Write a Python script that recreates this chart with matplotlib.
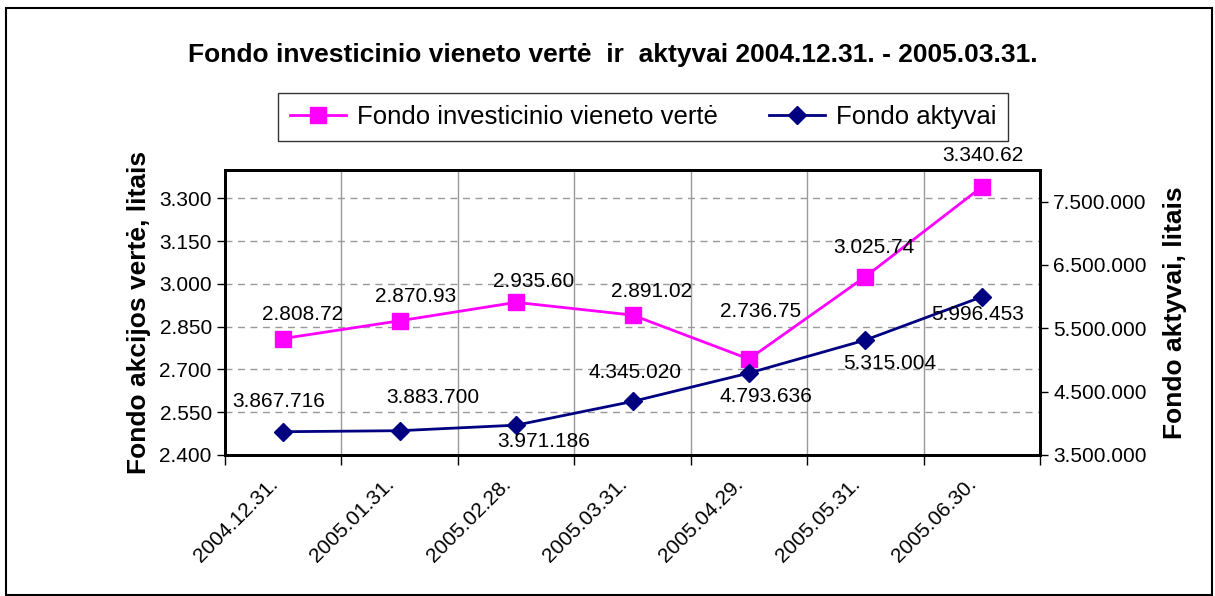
import numpy as np
import matplotlib
matplotlib.use("Agg")
from matplotlib import pyplot as plt
from matplotlib.patches import Rectangle
from matplotlib.ticker import FixedLocator
from matplotlib.transforms import offset_copy

dates = ["2004.12.31.", "2005.01.31.", "2005.02.28.", "2005.03.31.",
         "2005.04.29.", "2005.05.31.", "2005.06.30."]
unit_value = [2808.72, 2870.93, 2935.60, 2891.02, 2736.75, 3025.74, 3340.62]
unit_labels = ["2.808.72", "2.870.93", "2.935.60", "2.891.02",
               "2.736.75", "3.025.74", "3.340.62"]
assets = [3867716, 3883700, 3971186, 4345020, 4793636, 5315004, 5996453]
asset_labels = ["3.867.716", "3.883.700", "3.971.186", "4.345.020",
                "4.793.636", "5.315.004", "5.996.453"]
left_ticks = [2400, 2550, 2700, 2850, 3000, 3150, 3300]
left_ticklabels = ["2.400", "2.550", "2.700", "2.850", "3.000", "3.150", "3.300"]
right_ticks = [3500000, 4500000, 5500000, 6500000, 7500000]
right_ticklabels = ["3.500.000", "4.500.000", "5.500.000", "6.500.000", "7.500.000"]

# label offsets in pixels (dx, dy)
unit_off = [(19, 24), (16, 24), (18, 21), (19, 24), (12, 48), (9, 29), (1, 31)]
asset_off = [(-5, 30), (33, 33), (28, -16), (2, 29), (17, -23), (24, -23), (-4, -18)]

plt.rcParams['font.family'] = ['Liberation Sans', 'DejaVu Sans']

W, H = 1215, 596
fig = plt.figure(figsize=(W / 100, H / 100), dpi=100)
ax = fig.add_axes([225 / W, 1 - 455 / H, (1040 - 225) / W, (455 - 170) / H])
ax2 = ax.twinx()

x = np.arange(len(dates))
pink = '#FF00FF'
navy = '#000080'

ax.plot(x, unit_value, color=pink, lw=2, marker='s', ms=11, zorder=3,
        label='Fondo investicinio vieneto vertė')
ax2.plot(x, assets, color=navy, lw=2, marker='D', ms=9, zorder=3,
         label='Fondo aktyvai')

ax.set_xlim(-0.5, len(dates) - 0.5)
ax.set_ylim(2400, 3400)
ax2.set_ylim(3500000, 8000000)

# category boundaries as major ticks, names at centers
ax.xaxis.set_major_locator(FixedLocator(np.arange(-0.5, len(dates))))
ax.xaxis.set_minor_locator(FixedLocator(x))
ax.set_xticklabels([], minor=False)
ax.set_xticklabels(dates, minor=True, rotation=45, ha='right',
                   rotation_mode='anchor', fontsize=15)
ax.tick_params(axis='x', which='major', length=7, width=1, direction='out')
ax.tick_params(axis='x', which='minor', length=0, pad=14)
for lab in ax.get_xticklabels(minor=True):
    lab.set_transform(offset_copy(lab.get_transform(), fig=fig, x=-15, y=0, units='dots'))

ax.set_yticks(left_ticks)
ax.set_yticklabels(left_ticklabels, fontsize=15)
ax.tick_params(axis='y', length=6, width=1)
ax2.set_yticks(right_ticks)
ax2.set_yticklabels(right_ticklabels, fontsize=15)
ax2.tick_params(axis='y', length=6, width=1)

ax.grid(axis='y', color='#999999', ls=(0, (5, 4)), lw=1)
ax.grid(axis='x', which='major', color='#999999', ls='-', lw=1)
ax.set_axisbelow(True)

for a in (ax, ax2):
    for s in a.spines.values():
        s.set_linewidth(2)
        s.set_color('black')

ax.set_ylabel('Fondo akcijos vertė, litais', fontsize=19, fontweight='bold', labelpad=6)
ax2.set_ylabel('Fondo aktyvai, litais', fontsize=19, fontweight='bold', labelpad=12)

for i in range(len(dates)):
    ax.annotate(unit_labels[i], (x[i], unit_value[i]), xytext=unit_off[i],
                textcoords='offset pixels', ha='center', va='center', fontsize=15)
    ax2.annotate(asset_labels[i], (x[i], assets[i]), xytext=asset_off[i],
                 textcoords='offset pixels', ha='center', va='center', fontsize=15)

fig.text(613 / W, 1 - 55 / H,
         'Fondo investicinio vieneto vertė  ir  aktyvai 2004.12.31. - 2005.03.31.',
         ha='center', va='center', fontsize=19, fontweight='bold')

h1, l1 = ax.get_legend_handles_labels()
h2, l2 = ax2.get_legend_handles_labels()
leg = fig.legend(h1 + h2, l1 + l2, loc='center', bbox_to_anchor=(643 / W, 1 - 117 / H),
                 ncol=2, fontsize=18.5, frameon=True, fancybox=False, edgecolor='black',
                 handlelength=2.2, handletextpad=0.4, columnspacing=2.0, borderpad=0.45)
leg.get_frame().set_linewidth(1)

fig.patches.append(Rectangle((6 / W, 1 - 595 / H), (1212 - 6) / W, (595 - 8) / H,
                             transform=fig.transFigure, fill=False,
                             edgecolor='black', lw=1.5))

fig.savefig('out.png', dpi=100)
